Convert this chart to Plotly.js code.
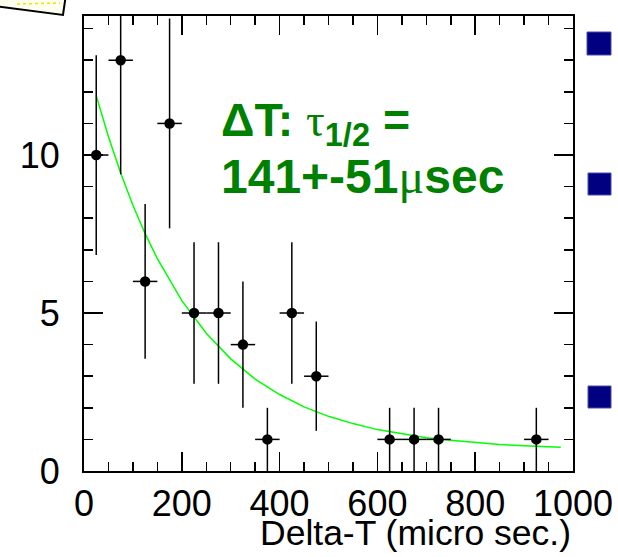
<!DOCTYPE html>
<html>
<head>
<meta charset="utf-8">
<script src="https://cdn.plot.ly/plotly-3.0.1.min.js"></script>
<style>html,body{margin:0;padding:0;background:#fff;}#chart{width:618px;height:557px;}</style>
</head>
<body>
<div id="chart"></div>
<script>
// Histogram points (bin centres, counts) with error bars
var binCenters = [25, 75, 125, 175, 225, 275, 325, 375, 425, 475, 625, 675, 725, 925];
var counts     = [10, 13, 6, 11, 5, 5, 4, 1, 5, 3, 1, 1, 1, 1];
var countErr   = [3.16, 3.61, 2.45, 3.32, 2.24, 2.24, 2, 1, 2.24, 1.73, 1, 1, 1, 1];
var binHalfWidth = [25, 25, 25, 25, 25, 25, 25, 25, 25, 25, 25, 25, 25, 25];

// Fitted curve
var fitX = [25, 50, 75, 100, 125, 150, 200, 250, 300, 350, 400, 450, 500, 550, 600, 650, 700, 750, 800, 850, 900, 950, 975];
var fitY = [11.88, 10.58, 9.43, 8.41, 7.51, 6.72, 5.39, 4.36, 3.55, 2.91, 2.42, 2.03, 1.73, 1.50, 1.31, 1.17, 1.05, 0.97, 0.90, 0.84, 0.80, 0.77, 0.75];

var xTitle = "Delta-T (micro sec.)";
var fitLine1 = 'ΔT: <span style="font-family:\'Liberation Serif\';font-weight:normal">τ</span><sub>1/2</sub> =';
var fitLine2 = '141+-51<span style="font-family:\'Liberation Serif\';font-weight:normal">μ</span>sec';

var FONT = "Liberation Sans, Arial, sans-serif";
var GREEN = "#008000";

var traces = [
  {
    x: fitX, y: fitY, type: "scatter", mode: "lines",
    line: {color: "#00ff00", width: 1.5}, hoverinfo: "skip", showlegend: false
  },
  {
    x: binCenters, y: counts, type: "scatter", mode: "markers",
    marker: {color: "black", size: 10.5},
    error_y: {type: "data", array: countErr, visible: true, color: "black", thickness: 1.5, width: 0},
    error_x: {type: "data", array: binHalfWidth, visible: true, color: "black", thickness: 1.5, width: 0},
    showlegend: false
  }
];

function px2x(px) { return (px - 84) / 489; }
function px2y(py) { return (471 - py) / 455; }

var squares = [[587, 32, 611, 55], [588, 173, 611, 195], [588, 386, 611, 408]];
var shapes = squares.map(function (s) {
  return {type: "rect", xref: "paper", yref: "paper",
    x0: px2x(s[0]), x1: px2x(s[2]), y0: px2y(s[3]), y1: px2y(s[1]),
    fillcolor: "#000080", line: {color: "#4a4ab0", width: 1}};
});
// clipped slide decoration at the top-left corner
shapes.push({type: "path", xref: "paper", yref: "paper",
  path: "M" + px2x(-5) + "," + px2y(-6) + " L" + px2x(66) + "," + px2y(-6) + " L" + px2x(63) + "," + px2y(15) + " L" + px2x(-5) + "," + px2y(6) + " Z",
  fillcolor: "#fffff0", line: {color: "black", width: 2}});
shapes.push({type: "line", xref: "paper", yref: "paper",
  x0: px2x(17), y0: px2y(4), x1: px2x(60), y1: px2y(3),
  line: {color: "#f0e000", width: 1.5, dash: "dot"}});

var axisCommon = {
  showline: true, linecolor: "black", linewidth: 2, mirror: "allticks",
  ticks: "inside", ticklen: 19, tickwidth: 1.5, tickcolor: "black",
  showgrid: false, zeroline: false,
  tickfont: {family: FONT, size: 36, color: "black"}
};

var layout = {
  width: 618, height: 557,
  margin: {l: 84, r: 45, t: 16, b: 86, pad: 0},
  paper_bgcolor: "white", plot_bgcolor: "white",
  font: {family: FONT},
  xaxis: Object.assign({}, axisCommon, {
    range: [0, 1000], dtick: 200, tick0: 0,
    minor: {dtick: 50, ticks: "inside", ticklen: 9, tickwidth: 1.5, tickcolor: "black"}
  }),
  yaxis: Object.assign({}, axisCommon, {
    range: [0, 14.4], dtick: 5, tick0: 0, ticklabelstandoff: 15,
    minor: {dtick: 1, ticks: "inside", ticklen: 9, tickwidth: 1.5, tickcolor: "black"}
  }),
  shapes: shapes,
  annotations: [
    {xref: "paper", yref: "paper", x: 1, y: px2y(533), xanchor: "right", yanchor: "middle",
     text: xTitle, showarrow: false, font: {family: FONT, size: 35.5, color: "black"}},
    {xref: "paper", yref: "paper", x: px2x(219), y: px2y(123), xanchor: "left", yanchor: "middle",
     text: fitLine1, showarrow: false, font: {family: FONT, size: 46.5, color: GREEN, weight: "bold"}},
    {xref: "paper", yref: "paper", x: px2x(219), y: px2y(176), xanchor: "left", yanchor: "middle",
     text: fitLine2, showarrow: false, font: {family: FONT, size: 48, color: GREEN, weight: "bold"}}
  ]
};

Plotly.newPlot("chart", traces, layout, {displayModeBar: false, staticPlot: true});
</script>
</body>
</html>
